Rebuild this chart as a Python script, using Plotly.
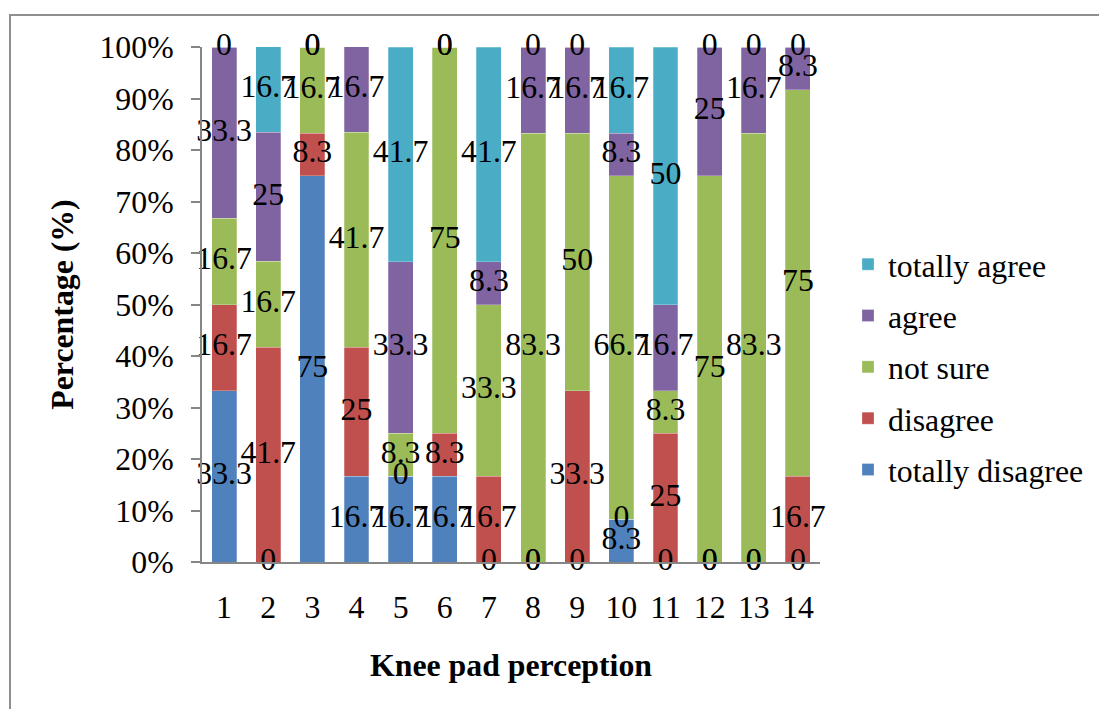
import plotly.graph_objects as go
import numpy as np

categories = [str(i) for i in range(1, 15)]
totally_disagree = [33.3, 0, 75, 16.7, 16.7, 16.7, 0, 0, 0, 8.3, 0, 0, 0, 0]
disagree = [16.7, 41.7, 8.3, 25, 0, 8.3, 16.7, 0, 33.3, 0, 25, 0, 0, 16.7]
not_sure = [16.7, 16.7, 16.7, 41.7, 8.3, 75, 33.3, 83.3, 50, 66.7, 8.3, 75, 83.3, 75]
agree = [33.3, 25, 0, 16.7, 33.3, 0, 8.3, 16.7, 16.7, 8.3, 16.7, 25, 16.7, 8.3]
totally_agree = [0, 16.7, 0, 0, 41.7, 0, 41.7, 0, 0, 16.7, 50, 0, 0, 0]

series_names = ["totally disagree", "disagree", "not sure", "agree", "totally agree"]
series_values = [totally_disagree, disagree, not_sure, agree, totally_agree]
colors = ["#4F81BD", "#C0504D", "#9BBB59", "#8064A2", "#4BACC6"]

FONT = "Liberation Serif"
FS = 31.8

fig = go.Figure()
n = len(series_names)
for i, (name, vals, col) in enumerate(zip(series_names, series_values, colors)):
    fig.add_trace(go.Bar(
        x=categories, y=vals, name=name, marker_color=col,
        marker_line=dict(color="rgba(255,255,255,0.5)", width=0.5),
        legendgroup=name, legendrank=1000 + (n - i), hoverinfo="skip"))

# data labels at segment centres (cumulative from data)
base = np.zeros(len(categories))
for vals in series_values:
    v = np.array(vals, dtype=float)
    mid = base + v / 2
    fig.add_trace(go.Scatter(
        x=categories, y=mid, mode="text",
        text=[("%g" % t) for t in vals],
        textfont=dict(family=FONT, size=FS, color="black"),
        showlegend=False, hoverinfo="skip", cliponaxis=False))
    base = base + v

L, R, T, B = 202, 279, 47, 147
W, H = 1099, 709
pw, ph = W - L - R, H - T - B

def px_x(p):
    return (p - L) / pw

def px_y(p):
    return (H - B - p) / ph

fig.add_shape(type="rect", xref="paper", yref="paper",
              x0=px_x(10), x1=px_x(1105), y0=px_y(715), y1=px_y(15),
              line=dict(color="#8f8f8f", width=2), layer="below")

fig.update_layout(
    width=W, height=H,
    margin=dict(l=L, r=R, t=T, b=B, pad=0, autoexpand=False),
    barmode="stack", bargap=0.434,
    paper_bgcolor="white", plot_bgcolor="white",
    font=dict(family=FONT, size=FS, color="black"),
    legend=dict(x=px_x(848), y=px_y(367), xanchor="left", yanchor="middle",
                traceorder="grouped", tracegroupgap=7,
                font=dict(family=FONT, size=FS, color="black"),
                bgcolor="rgba(0,0,0,0)"),
    xaxis=dict(type="category", range=[-0.5, len(categories) - 0.5],
               showgrid=False, showline=True, automargin=False,
               linecolor="#868686", linewidth=2, ticks="",
               ticklabelstandoff=16,
               tickfont=dict(family=FONT, size=FS),
               title=dict(text="Knee pad perception", standoff=30,
                          font=dict(family=FONT, size=FS, weight="bold"))),
    yaxis=dict(range=[0, 100], dtick=10, ticksuffix="%", showgrid=False,
               showline=True, linecolor="#868686", linewidth=2, automargin=False,
               ticks="outside", ticklen=9, tickcolor="#868686", tickwidth=2,
               ticklabelstandoff=11,
               tickfont=dict(family=FONT, size=FS),
               title=dict(text="Percentage (%)", standoff=16,
                          font=dict(family=FONT, size=FS, weight="bold"))),
)

fig.write_html("out.html")
